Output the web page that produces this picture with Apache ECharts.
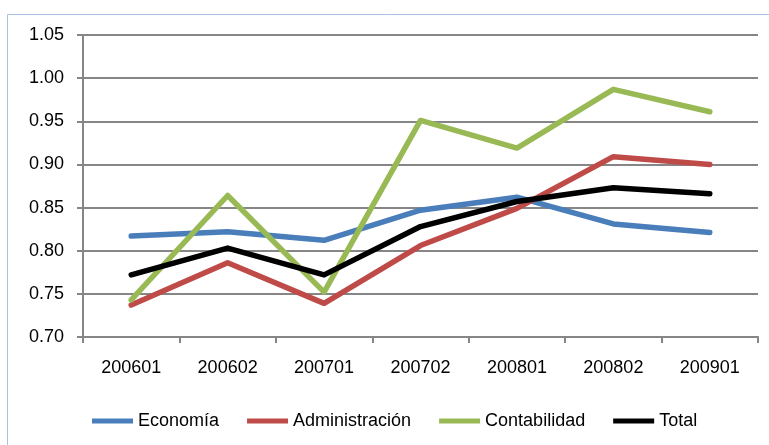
<!DOCTYPE html>
<html>
<head>
<meta charset="utf-8">
<script src="https://cdn.jsdelivr.net/npm/echarts@6/dist/echarts.min.js"></script>
<style>
html,body{margin:0;padding:0;background:#fff;}
#chart{width:769px;height:445px;}
</style>
</head>
<body>
<div id="chart"></div>
<script>
var categories = ['200601','200602','200701','200702','200801','200802','200901'];
var economia = [0.817, 0.822, 0.812, 0.847, 0.862, 0.831, 0.821];
var administracion = [0.737, 0.786, 0.739, 0.806, 0.849, 0.909, 0.900];
var contabilidad = [0.743, 0.864, 0.752, 0.951, 0.919, 0.987, 0.961];
var total = [0.772, 0.803, 0.772, 0.828, 0.857, 0.873, 0.866];
var seriesNames = ['Economía','Administración','Contabilidad','Total'];
var colors = ['#4a7ebb','#be4b48','#98b954','#000000'];

var font = 'Liberation Sans, Arial, sans-serif';
var chart = echarts.init(document.getElementById('chart'), null, {renderer:'canvas'});
function mk(name, data, color){
  return {
    name: name, type: 'line', data: data, symbol: 'none',
    lineStyle: {color: color, width: 5.5, cap: 'round', join: 'round'},
    itemStyle: {color: color}
  };
}
chart.setOption({
  animation: false,
  backgroundColor: '#ffffff',
  graphic: [{
    type: 'rect', silent: true, z: -1,
    shape: {x: 7.5, y: 14.5, width: 800, height: 500},
    style: {fill: 'none', stroke: '#a9c2e6', lineWidth: 1}
  }],
  grid: {left: 83, right: 11, top: 35, bottom: 108, containLabel: false},
  legend: {
    left: 92, top: 412, padding: 0,
    itemWidth: 41, itemHeight: 5, itemGap: 28,
    icon: 'rect',
    textStyle: {fontFamily: font, fontSize: 18, color: '#000'},
    data: seriesNames
  },
  xAxis: {
    type: 'category', data: categories, boundaryGap: true,
    axisLine: {lineStyle: {color: '#868686', width: 2}},
    axisTick: {show: true, length: 6, lineStyle: {color: '#868686', width: 2}},
    axisLabel: {fontFamily: font, fontSize: 18, color: '#000', margin: 22}
  },
  yAxis: {
    type: 'value', min: 0.70, max: 1.05, interval: 0.05,
    axisLine: {show: true, lineStyle: {color: '#868686', width: 2}},
    axisTick: {show: true, length: 6, lineStyle: {color: '#868686', width: 2}},
    splitLine: {show: true, lineStyle: {color: '#868686', width: 2}},
    axisLabel: {fontFamily: font, fontSize: 18, color: '#000', margin: 19,
      formatter: function(v){ return v.toFixed(2); }}
  },
  series: [
    mk(seriesNames[0], economia, colors[0]),
    mk(seriesNames[1], administracion, colors[1]),
    mk(seriesNames[2], contabilidad, colors[2]),
    mk(seriesNames[3], total, colors[3])
  ]
});
</script>
</body>
</html>
